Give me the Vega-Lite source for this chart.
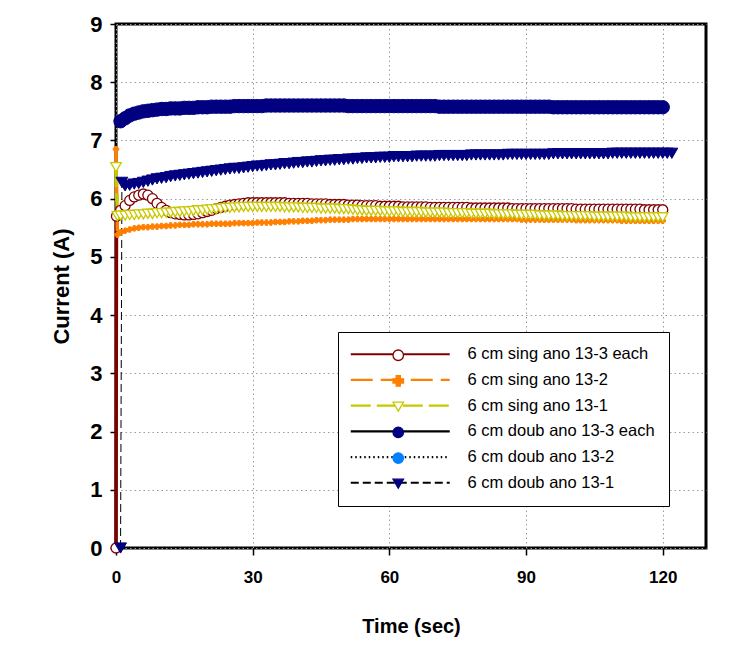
{
"$schema": "https://vega.github.io/schema/vega-lite/v6.json",
"width": 590, "height": 524,
"autosize": "none",
"padding": {"left": 116, "top": 24, "right": 32, "bottom": 101},
"background": "white",
"config": {
 "font": "Liberation Sans",
 "view": {"stroke": "black", "strokeWidth": 3},
 "axis": {"labelFont": "Liberation Sans", "labelFontWeight": "bold", "labelColor": "black", "labelFlush": false, "titleFont": "Liberation Sans", "titleFontWeight": "bold", "titleColor": "black", "tickColor": "black", "tickWidth": 1.5, "domain": false, "grid": true, "gridColor": "#9a9a9a", "gridDash": [1.5, 3], "gridWidth": 1}
},
"datasets": {
 "a": [{"t":0,"A":0},{"t":0.1,"A":5.7},{"t":1,"A":5.8},{"t":2,"A":5.88},{"t":3,"A":5.97},{"t":4,"A":6.03},{"t":5,"A":6.06},{"t":6,"A":6.08},{"t":7,"A":6.06},{"t":8,"A":6.0},{"t":9,"A":5.92},{"t":10,"A":5.85},{"t":11,"A":5.8},{"t":12,"A":5.76},{"t":13,"A":5.74},{"t":14,"A":5.73},{"t":15,"A":5.72},{"t":16,"A":5.72},{"t":17,"A":5.73},{"t":18,"A":5.74},{"t":19,"A":5.76},{"t":20,"A":5.78},{"t":21,"A":5.8},{"t":22,"A":5.83},{"t":23,"A":5.85},{"t":24,"A":5.87},{"t":25,"A":5.89},{"t":26,"A":5.9},{"t":27,"A":5.91},{"t":28,"A":5.92},{"t":29,"A":5.93},{"t":30,"A":5.93},{"t":31,"A":5.93},{"t":32,"A":5.93},{"t":33,"A":5.93},{"t":34,"A":5.93},{"t":35,"A":5.93},{"t":36,"A":5.93},{"t":37,"A":5.93},{"t":38,"A":5.92},{"t":39,"A":5.92},{"t":40,"A":5.92},{"t":41,"A":5.92},{"t":42,"A":5.92},{"t":43,"A":5.91},{"t":44,"A":5.91},{"t":45,"A":5.91},{"t":46,"A":5.91},{"t":47,"A":5.9},{"t":48,"A":5.9},{"t":49,"A":5.9},{"t":50,"A":5.9},{"t":51,"A":5.89},{"t":52,"A":5.89},{"t":53,"A":5.89},{"t":54,"A":5.88},{"t":55,"A":5.88},{"t":56,"A":5.88},{"t":57,"A":5.88},{"t":58,"A":5.87},{"t":59,"A":5.87},{"t":60,"A":5.87},{"t":61,"A":5.87},{"t":62,"A":5.87},{"t":63,"A":5.86},{"t":64,"A":5.86},{"t":65,"A":5.86},{"t":66,"A":5.86},{"t":67,"A":5.86},{"t":68,"A":5.86},{"t":69,"A":5.85},{"t":70,"A":5.85},{"t":71,"A":5.85},{"t":72,"A":5.85},{"t":73,"A":5.85},{"t":74,"A":5.85},{"t":75,"A":5.85},{"t":76,"A":5.85},{"t":77,"A":5.85},{"t":78,"A":5.84},{"t":79,"A":5.84},{"t":80,"A":5.84},{"t":81,"A":5.84},{"t":82,"A":5.84},{"t":83,"A":5.84},{"t":84,"A":5.84},{"t":85,"A":5.84},{"t":86,"A":5.84},{"t":87,"A":5.83},{"t":88,"A":5.83},{"t":89,"A":5.83},{"t":90,"A":5.83},{"t":91,"A":5.83},{"t":92,"A":5.83},{"t":93,"A":5.83},{"t":94,"A":5.83},{"t":95,"A":5.83},{"t":96,"A":5.83},{"t":97,"A":5.83},{"t":98,"A":5.83},{"t":99,"A":5.83},{"t":100,"A":5.83},{"t":101,"A":5.82},{"t":102,"A":5.82},{"t":103,"A":5.82},{"t":104,"A":5.82},{"t":105,"A":5.82},{"t":106,"A":5.82},{"t":107,"A":5.82},{"t":108,"A":5.82},{"t":109,"A":5.82},{"t":110,"A":5.82},{"t":111,"A":5.82},{"t":112,"A":5.82},{"t":113,"A":5.82},{"t":114,"A":5.82},{"t":115,"A":5.82},{"t":116,"A":5.81},{"t":117,"A":5.81},{"t":118,"A":5.81},{"t":119,"A":5.81},{"t":120,"A":5.81}],
 "b": [{"t":0,"A":6.85},{"t":0.3,"A":5.38},{"t":1,"A":5.42},{"t":2,"A":5.45},{"t":3,"A":5.47},{"t":4,"A":5.49},{"t":5,"A":5.5},{"t":6,"A":5.51},{"t":7,"A":5.51},{"t":8,"A":5.52},{"t":9,"A":5.52},{"t":10,"A":5.53},{"t":11,"A":5.53},{"t":12,"A":5.54},{"t":13,"A":5.54},{"t":14,"A":5.55},{"t":15,"A":5.55},{"t":16,"A":5.55},{"t":17,"A":5.56},{"t":18,"A":5.56},{"t":19,"A":5.56},{"t":20,"A":5.56},{"t":21,"A":5.57},{"t":22,"A":5.57},{"t":23,"A":5.57},{"t":24,"A":5.57},{"t":25,"A":5.57},{"t":26,"A":5.58},{"t":27,"A":5.58},{"t":28,"A":5.58},{"t":29,"A":5.58},{"t":30,"A":5.58},{"t":31,"A":5.59},{"t":32,"A":5.59},{"t":33,"A":5.59},{"t":34,"A":5.59},{"t":35,"A":5.6},{"t":36,"A":5.6},{"t":37,"A":5.6},{"t":38,"A":5.61},{"t":39,"A":5.61},{"t":40,"A":5.61},{"t":41,"A":5.62},{"t":42,"A":5.62},{"t":43,"A":5.62},{"t":44,"A":5.63},{"t":45,"A":5.63},{"t":46,"A":5.63},{"t":47,"A":5.64},{"t":48,"A":5.64},{"t":49,"A":5.64},{"t":50,"A":5.64},{"t":51,"A":5.64},{"t":52,"A":5.65},{"t":53,"A":5.65},{"t":54,"A":5.65},{"t":55,"A":5.65},{"t":56,"A":5.65},{"t":57,"A":5.65},{"t":58,"A":5.65},{"t":59,"A":5.65},{"t":60,"A":5.65},{"t":61,"A":5.65},{"t":62,"A":5.65},{"t":63,"A":5.65},{"t":64,"A":5.65},{"t":65,"A":5.65},{"t":66,"A":5.65},{"t":67,"A":5.65},{"t":68,"A":5.65},{"t":69,"A":5.65},{"t":70,"A":5.65},{"t":71,"A":5.65},{"t":72,"A":5.65},{"t":73,"A":5.65},{"t":74,"A":5.65},{"t":75,"A":5.65},{"t":76,"A":5.65},{"t":77,"A":5.65},{"t":78,"A":5.65},{"t":79,"A":5.65},{"t":80,"A":5.65},{"t":81,"A":5.65},{"t":82,"A":5.65},{"t":83,"A":5.65},{"t":84,"A":5.65},{"t":85,"A":5.65},{"t":86,"A":5.65},{"t":87,"A":5.65},{"t":88,"A":5.65},{"t":89,"A":5.64},{"t":90,"A":5.64},{"t":91,"A":5.64},{"t":92,"A":5.64},{"t":93,"A":5.64},{"t":94,"A":5.64},{"t":95,"A":5.64},{"t":96,"A":5.64},{"t":97,"A":5.64},{"t":98,"A":5.64},{"t":99,"A":5.64},{"t":100,"A":5.64},{"t":101,"A":5.63},{"t":102,"A":5.63},{"t":103,"A":5.63},{"t":104,"A":5.63},{"t":105,"A":5.63},{"t":106,"A":5.63},{"t":107,"A":5.63},{"t":108,"A":5.63},{"t":109,"A":5.63},{"t":110,"A":5.63},{"t":111,"A":5.62},{"t":112,"A":5.62},{"t":113,"A":5.62},{"t":114,"A":5.62},{"t":115,"A":5.62},{"t":116,"A":5.62},{"t":117,"A":5.62},{"t":118,"A":5.62},{"t":119,"A":5.62},{"t":120,"A":5.62}],
 "c": [{"t":0,"A":6.54},{"t":0.3,"A":5.7},{"t":1,"A":5.71},{"t":2,"A":5.71},{"t":3,"A":5.72},{"t":4,"A":5.72},{"t":5,"A":5.73},{"t":6,"A":5.73},{"t":7,"A":5.74},{"t":8,"A":5.74},{"t":9,"A":5.75},{"t":10,"A":5.75},{"t":11,"A":5.76},{"t":12,"A":5.76},{"t":13,"A":5.77},{"t":14,"A":5.77},{"t":15,"A":5.78},{"t":16,"A":5.78},{"t":17,"A":5.79},{"t":18,"A":5.8},{"t":19,"A":5.8},{"t":20,"A":5.81},{"t":21,"A":5.82},{"t":22,"A":5.82},{"t":23,"A":5.83},{"t":24,"A":5.84},{"t":25,"A":5.84},{"t":26,"A":5.85},{"t":27,"A":5.85},{"t":28,"A":5.86},{"t":29,"A":5.86},{"t":30,"A":5.86},{"t":31,"A":5.86},{"t":32,"A":5.86},{"t":33,"A":5.86},{"t":34,"A":5.86},{"t":35,"A":5.86},{"t":36,"A":5.86},{"t":37,"A":5.85},{"t":38,"A":5.85},{"t":39,"A":5.85},{"t":40,"A":5.85},{"t":41,"A":5.84},{"t":42,"A":5.84},{"t":43,"A":5.84},{"t":44,"A":5.84},{"t":45,"A":5.83},{"t":46,"A":5.83},{"t":47,"A":5.83},{"t":48,"A":5.83},{"t":49,"A":5.82},{"t":50,"A":5.82},{"t":51,"A":5.82},{"t":52,"A":5.81},{"t":53,"A":5.8},{"t":54,"A":5.8},{"t":55,"A":5.79},{"t":56,"A":5.79},{"t":57,"A":5.79},{"t":58,"A":5.79},{"t":59,"A":5.78},{"t":60,"A":5.78},{"t":61,"A":5.78},{"t":62,"A":5.78},{"t":63,"A":5.77},{"t":64,"A":5.77},{"t":65,"A":5.77},{"t":66,"A":5.77},{"t":67,"A":5.77},{"t":68,"A":5.76},{"t":69,"A":5.76},{"t":70,"A":5.76},{"t":71,"A":5.76},{"t":72,"A":5.76},{"t":73,"A":5.75},{"t":74,"A":5.75},{"t":75,"A":5.75},{"t":76,"A":5.75},{"t":77,"A":5.75},{"t":78,"A":5.74},{"t":79,"A":5.74},{"t":80,"A":5.74},{"t":81,"A":5.74},{"t":82,"A":5.74},{"t":83,"A":5.73},{"t":84,"A":5.73},{"t":85,"A":5.73},{"t":86,"A":5.73},{"t":87,"A":5.73},{"t":88,"A":5.72},{"t":89,"A":5.72},{"t":90,"A":5.72},{"t":91,"A":5.72},{"t":92,"A":5.72},{"t":93,"A":5.71},{"t":94,"A":5.71},{"t":95,"A":5.71},{"t":96,"A":5.71},{"t":97,"A":5.71},{"t":98,"A":5.7},{"t":99,"A":5.7},{"t":100,"A":5.7},{"t":101,"A":5.7},{"t":102,"A":5.7},{"t":103,"A":5.7},{"t":104,"A":5.7},{"t":105,"A":5.69},{"t":106,"A":5.69},{"t":107,"A":5.69},{"t":108,"A":5.69},{"t":109,"A":5.69},{"t":110,"A":5.69},{"t":111,"A":5.69},{"t":112,"A":5.69},{"t":113,"A":5.68},{"t":114,"A":5.68},{"t":115,"A":5.68},{"t":116,"A":5.68},{"t":117,"A":5.68},{"t":118,"A":5.68},{"t":119,"A":5.68},{"t":120,"A":5.68}],
 "d": [{"t":1,"A":7.33},{"t":2,"A":7.38},{"t":3,"A":7.43},{"t":4,"A":7.46},{"t":5,"A":7.48},{"t":6,"A":7.5},{"t":7,"A":7.51},{"t":8,"A":7.52},{"t":9,"A":7.53},{"t":10,"A":7.54},{"t":11,"A":7.54},{"t":12,"A":7.55},{"t":13,"A":7.55},{"t":14,"A":7.55},{"t":15,"A":7.56},{"t":16,"A":7.56},{"t":17,"A":7.56},{"t":18,"A":7.57},{"t":19,"A":7.57},{"t":20,"A":7.57},{"t":21,"A":7.58},{"t":22,"A":7.58},{"t":23,"A":7.58},{"t":24,"A":7.58},{"t":25,"A":7.58},{"t":26,"A":7.59},{"t":27,"A":7.59},{"t":28,"A":7.59},{"t":29,"A":7.59},{"t":30,"A":7.59},{"t":31,"A":7.59},{"t":32,"A":7.59},{"t":33,"A":7.6},{"t":34,"A":7.6},{"t":35,"A":7.6},{"t":36,"A":7.6},{"t":37,"A":7.6},{"t":38,"A":7.6},{"t":39,"A":7.6},{"t":40,"A":7.6},{"t":41,"A":7.6},{"t":42,"A":7.6},{"t":43,"A":7.6},{"t":44,"A":7.6},{"t":45,"A":7.6},{"t":46,"A":7.6},{"t":47,"A":7.6},{"t":48,"A":7.6},{"t":49,"A":7.6},{"t":50,"A":7.6},{"t":51,"A":7.59},{"t":52,"A":7.59},{"t":53,"A":7.59},{"t":54,"A":7.59},{"t":55,"A":7.59},{"t":56,"A":7.59},{"t":57,"A":7.59},{"t":58,"A":7.59},{"t":59,"A":7.59},{"t":60,"A":7.59},{"t":61,"A":7.59},{"t":62,"A":7.59},{"t":63,"A":7.59},{"t":64,"A":7.59},{"t":65,"A":7.59},{"t":66,"A":7.59},{"t":67,"A":7.59},{"t":68,"A":7.59},{"t":69,"A":7.59},{"t":70,"A":7.59},{"t":71,"A":7.58},{"t":72,"A":7.58},{"t":73,"A":7.58},{"t":74,"A":7.58},{"t":75,"A":7.58},{"t":76,"A":7.58},{"t":77,"A":7.58},{"t":78,"A":7.58},{"t":79,"A":7.58},{"t":80,"A":7.58},{"t":81,"A":7.58},{"t":82,"A":7.58},{"t":83,"A":7.58},{"t":84,"A":7.58},{"t":85,"A":7.58},{"t":86,"A":7.58},{"t":87,"A":7.58},{"t":88,"A":7.58},{"t":89,"A":7.58},{"t":90,"A":7.58},{"t":91,"A":7.58},{"t":92,"A":7.58},{"t":93,"A":7.58},{"t":94,"A":7.58},{"t":95,"A":7.58},{"t":96,"A":7.57},{"t":97,"A":7.57},{"t":98,"A":7.57},{"t":99,"A":7.57},{"t":100,"A":7.57},{"t":101,"A":7.57},{"t":102,"A":7.57},{"t":103,"A":7.57},{"t":104,"A":7.57},{"t":105,"A":7.57},{"t":106,"A":7.57},{"t":107,"A":7.57},{"t":108,"A":7.57},{"t":109,"A":7.57},{"t":110,"A":7.57},{"t":111,"A":7.57},{"t":112,"A":7.57},{"t":113,"A":7.57},{"t":114,"A":7.57},{"t":115,"A":7.57},{"t":116,"A":7.57},{"t":117,"A":7.57},{"t":118,"A":7.57},{"t":119,"A":7.57},{"t":120,"A":7.57}],
 "f": [{"t":1,"A":0},{"t":1.3,"A":6.28},{"t":2,"A":6.22},{"t":3,"A":6.23},{"t":4,"A":6.25},{"t":5,"A":6.26},{"t":6,"A":6.28},{"t":7,"A":6.3},{"t":8,"A":6.32},{"t":9,"A":6.34},{"t":10,"A":6.35},{"t":11,"A":6.36},{"t":12,"A":6.38},{"t":13,"A":6.39},{"t":14,"A":6.4},{"t":15,"A":6.41},{"t":16,"A":6.42},{"t":17,"A":6.43},{"t":18,"A":6.44},{"t":19,"A":6.45},{"t":20,"A":6.46},{"t":21,"A":6.47},{"t":22,"A":6.48},{"t":23,"A":6.49},{"t":24,"A":6.5},{"t":25,"A":6.51},{"t":26,"A":6.52},{"t":27,"A":6.52},{"t":28,"A":6.53},{"t":29,"A":6.54},{"t":30,"A":6.55},{"t":31,"A":6.56},{"t":32,"A":6.56},{"t":33,"A":6.57},{"t":34,"A":6.58},{"t":35,"A":6.58},{"t":36,"A":6.59},{"t":37,"A":6.6},{"t":38,"A":6.6},{"t":39,"A":6.61},{"t":40,"A":6.62},{"t":41,"A":6.62},{"t":42,"A":6.63},{"t":43,"A":6.63},{"t":44,"A":6.64},{"t":45,"A":6.65},{"t":46,"A":6.65},{"t":47,"A":6.66},{"t":48,"A":6.66},{"t":49,"A":6.67},{"t":50,"A":6.67},{"t":51,"A":6.68},{"t":52,"A":6.68},{"t":53,"A":6.69},{"t":54,"A":6.69},{"t":55,"A":6.7},{"t":56,"A":6.7},{"t":57,"A":6.7},{"t":58,"A":6.71},{"t":59,"A":6.71},{"t":60,"A":6.71},{"t":61,"A":6.72},{"t":62,"A":6.72},{"t":63,"A":6.72},{"t":64,"A":6.72},{"t":65,"A":6.72},{"t":66,"A":6.73},{"t":67,"A":6.73},{"t":68,"A":6.73},{"t":69,"A":6.73},{"t":70,"A":6.73},{"t":71,"A":6.74},{"t":72,"A":6.74},{"t":73,"A":6.74},{"t":74,"A":6.74},{"t":75,"A":6.74},{"t":76,"A":6.74},{"t":77,"A":6.74},{"t":78,"A":6.75},{"t":79,"A":6.75},{"t":80,"A":6.75},{"t":81,"A":6.75},{"t":82,"A":6.75},{"t":83,"A":6.75},{"t":84,"A":6.75},{"t":85,"A":6.75},{"t":86,"A":6.76},{"t":87,"A":6.76},{"t":88,"A":6.76},{"t":89,"A":6.76},{"t":90,"A":6.76},{"t":91,"A":6.76},{"t":92,"A":6.76},{"t":93,"A":6.76},{"t":94,"A":6.76},{"t":95,"A":6.76},{"t":96,"A":6.77},{"t":97,"A":6.77},{"t":98,"A":6.77},{"t":99,"A":6.77},{"t":100,"A":6.77},{"t":101,"A":6.77},{"t":102,"A":6.77},{"t":103,"A":6.77},{"t":104,"A":6.77},{"t":105,"A":6.77},{"t":106,"A":6.77},{"t":107,"A":6.77},{"t":108,"A":6.77},{"t":109,"A":6.78},{"t":110,"A":6.78},{"t":111,"A":6.78},{"t":112,"A":6.78},{"t":113,"A":6.78},{"t":114,"A":6.78},{"t":115,"A":6.78},{"t":116,"A":6.78},{"t":117,"A":6.78},{"t":118,"A":6.78},{"t":119,"A":6.78},{"t":120,"A":6.78},{"t":121,"A":6.78},{"t":122,"A":6.78}]
},
"encoding": {
 "x": {"field": "t", "type": "quantitative", "scale": {"domain": [0, 129.5], "nice": false, "zero": false}, "axis": {"values": [0, 30, 60, 90, 120], "title": "Time (sec)", "labelFontSize": 17, "tickSize": 7, "labelPadding": 14, "titleFontSize": 20, "titlePadding": 31}},
 "y": {"field": "A", "type": "quantitative", "scale": {"domain": [0, 9], "nice": false}, "axis": {"values": [0, 1, 2, 3, 4, 5, 6, 7, 8, 9], "title": "Current (A)", "labelFontSize": 22, "tickSize": 6, "labelPadding": 8, "titleFontSize": 22, "titlePadding": 16}}
},
"layer": [
  {"data": {"name": "a"}, "mark": {"type": "line", "strokeCap": "butt", "strokeWidth": 3.5}, "encoding": {
    "color": {"datum": "6 cm sing ano 13-3 each", "type": "nominal", "scale": {"domain": ["6 cm sing ano 13-3 each", "6 cm sing ano 13-2", "6 cm sing ano 13-1", "6 cm doub ano 13-3 each", "6 cm doub ano 13-2", "6 cm doub ano 13-1"], "range": ["#800000", "#FF8000", "#C8C800", "#000000", "#000000", "#000000"]},
      "legend": {"orient": "none", "legendX": 222, "legendY": 308, "title": null, "symbolType": "M-10,0H10", "symbolSize": 98, "symbolOffset": 40, "symbolStrokeWidth": 2.2, "labelFontSize": 16.5, "labelFont": "Liberation Sans", "labelColor": "black", "labelOffset": 59, "labelLimit": 400, "rowPadding": 8.7, "padding": 14, "strokeColor": "black", "fillColor": "white"}},
    "strokeDash": {"datum": "6 cm sing ano 13-3 each", "type": "nominal", "scale": {"domain": ["6 cm sing ano 13-3 each", "6 cm sing ano 13-2", "6 cm sing ano 13-1", "6 cm doub ano 13-3 each", "6 cm doub ano 13-2", "6 cm doub ano 13-1"], "range": [[1, 0], [22, 8], [20, 6], [1, 0], [1.5, 3], [8, 4]]}}}},
  {"data": {"name": "b"}, "mark": {"type": "line", "strokeCap": "butt", "strokeWidth": 3.5}, "encoding": {
    "color": {"datum": "6 cm sing ano 13-2", "type": "nominal"},
    "strokeDash": {"datum": "6 cm sing ano 13-2", "type": "nominal"}}},
  {"data": {"name": "c"}, "mark": {"type": "line", "strokeCap": "butt", "strokeWidth": 3.5}, "encoding": {
    "color": {"datum": "6 cm sing ano 13-1", "type": "nominal"},
    "strokeDash": {"datum": "6 cm sing ano 13-1", "type": "nominal"}}},
  {"data": {"name": "d"}, "mark": {"type": "line", "strokeCap": "butt", "strokeWidth": 1}, "encoding": {
    "color": {"datum": "6 cm doub ano 13-3 each", "type": "nominal"},
    "strokeDash": {"datum": "6 cm doub ano 13-3 each", "type": "nominal"}}},
  {"data": {"name": "f"}, "mark": {"type": "line", "strokeCap": "butt", "strokeWidth": 1}, "encoding": {
    "color": {"datum": "6 cm doub ano 13-1", "type": "nominal"},
    "strokeDash": {"datum": "6 cm doub ano 13-1", "type": "nominal"}}},
  {"data": {"name": "a"}, "mark": {"type": "point", "filled": true, "size": 100, "strokeWidth": 1.3, "opacity": 1}, "encoding": {
    "shape": {"datum": "6 cm sing ano 13-3 each", "type": "nominal", "scale": {"domain": ["6 cm sing ano 13-3 each", "6 cm sing ano 13-2", "6 cm sing ano 13-1", "6 cm doub ano 13-3 each", "6 cm doub ano 13-2", "6 cm doub ano 13-1", "zz"], "range": ["circle", "cross", "triangle-down", "circle", "circle", "triangle-down", "circle"]},
      "legend": {"orient": "none", "legendX": 274, "legendY": 323, "title": null, "labelExpr": "''", "padding": 0, "rowPadding": 8.7, "labelFontSize": 16.5, "symbolSize": 110, "symbolStrokeWidth": 1.3, "symbolOpacity": 1}},
    "fill": {"datum": "6 cm sing ano 13-3 each", "type": "nominal", "scale": {"domain": ["6 cm sing ano 13-3 each", "6 cm sing ano 13-2", "6 cm sing ano 13-1", "6 cm doub ano 13-3 each", "6 cm doub ano 13-2", "6 cm doub ano 13-1", "zz"], "range": ["#FFFFFF", "#FF8000", "#FFFFFF", "#000080", "#0080FF", "#000080", "transparent"]}},
    "stroke": {"datum": "6 cm sing ano 13-3 each", "type": "nominal", "scale": {"domain": ["6 cm sing ano 13-3 each", "6 cm sing ano 13-2", "6 cm sing ano 13-1", "6 cm doub ano 13-3 each", "6 cm doub ano 13-2", "6 cm doub ano 13-1", "zz"], "range": ["#800000", "#FF8000", "#C8C800", "#000080", "#0080FF", "#000080", "transparent"]}}}},
  {"data": {"name": "b"}, "mark": {"type": "point", "filled": true, "size": 30, "strokeWidth": 1, "opacity": 1}, "encoding": {
    "shape": {"datum": "6 cm sing ano 13-2", "type": "nominal"},
    "fill": {"datum": "6 cm sing ano 13-2", "type": "nominal"},
    "stroke": {"datum": "6 cm sing ano 13-2", "type": "nominal"}}},
  {"data": {"name": "c"}, "mark": {"type": "point", "filled": true, "size": 110, "strokeWidth": 1.3, "opacity": 1}, "encoding": {
    "shape": {"datum": "6 cm sing ano 13-1", "type": "nominal"},
    "fill": {"datum": "6 cm sing ano 13-1", "type": "nominal"},
    "stroke": {"datum": "6 cm sing ano 13-1", "type": "nominal"}}},
  {"data": {"name": "d"}, "mark": {"type": "point", "filled": true, "size": 180, "strokeWidth": 1, "opacity": 1}, "encoding": {
    "shape": {"datum": "6 cm doub ano 13-3 each", "type": "nominal"},
    "fill": {"datum": "6 cm doub ano 13-3 each", "type": "nominal"},
    "stroke": {"datum": "6 cm doub ano 13-3 each", "type": "nominal"}}},
  {"data": {"name": "f"}, "mark": {"type": "point", "filled": true, "size": 140, "strokeWidth": 1, "opacity": 1}, "encoding": {
    "shape": {"datum": "6 cm doub ano 13-1", "type": "nominal"},
    "fill": {"datum": "6 cm doub ano 13-1", "type": "nominal"},
    "stroke": {"datum": "6 cm doub ano 13-1", "type": "nominal"}}}
]
}
